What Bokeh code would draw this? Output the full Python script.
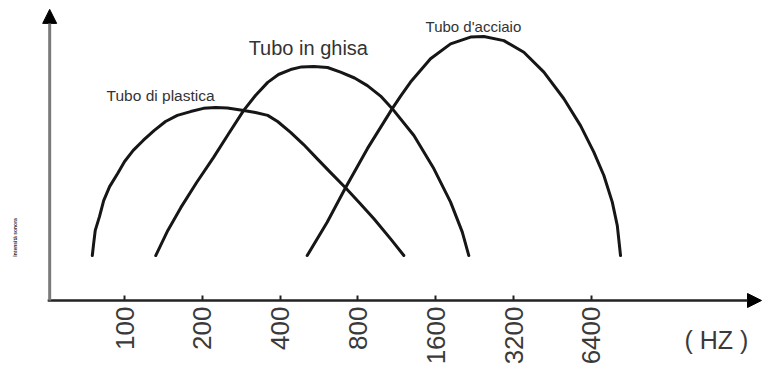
import math
from bokeh.plotting import figure
from bokeh.models import FixedTicker, Arrow, NormalHead, Label, Range1d
from bokeh.embed import file_html
from bokeh.resources import INLINE

# ---- data ----
tick_freqs = [100, 200, 400, 800, 1600, 3200, 6400]
tick_labels = ["100", "200", "400", "800", "1600", "3200", "6400"]

plastic_freq = [75, 76, 77, 80, 83, 87.5, 94, 100, 108, 118, 130, 144, 160, 180, 202, 225, 250,
                289, 321, 358, 391, 439, 493, 557, 627, 716, 812, 922, 1070, 1204]
plastic_level = [15.4, 19.9, 24.0, 28.8, 34.2, 39.0, 43.5, 47.6, 51.4, 54.8, 58.2, 61.3, 63.4, 64.7, 65.8, 66.1, 65.9,
                 65.1, 64.4, 63.4, 61.3, 57.6, 53.4, 48.5, 43.8, 38.6, 33.4, 28.0, 21.1, 15.4]

ghisa_freq = [132, 147, 165, 190, 221, 253, 289, 321, 358, 394, 439, 484, 540, 610, 685, 776, 870, 979,
              1086, 1317, 1574, 1826, 2027, 2148]
ghisa_level = [15.4, 24.0, 31.8, 40.4, 49.0, 57.2, 65.1, 70.2, 74.7, 77.4, 79.1, 80.0, 80.1, 79.8, 78.2, 76.2, 73.6, 70.0,
               65.7, 56.5, 45.1, 33.7, 23.4, 15.4]

steel_freq = [509, 608, 716, 870, 1086, 1170, 1278, 1527, 1826, 2181, 2456, 2935, 3508, 4193, 5011, 5812,
              6543, 7156, 7713, 8063, 8300]
steel_level = [15.4, 26.8, 38.6, 52.0, 65.7, 70.0, 74.8, 82.8, 87.9, 90.2, 90.4, 89.0, 85.0, 78.2, 69.1, 59.9,
               50.8, 42.8, 33.7, 25.7, 15.4]

series_names = ["Tubo di plastica", "Tubo in ghisa", "Tubo d'acciaio"]
x_unit_label = "( HZ )"
y_axis_label = "Intensità sonora"

# ---- figure: frame covers the whole canvas, x axis fixed at level 0 ----
x_range = Range1d(33.1, 29410)
y_range = Range1d(-21.92, 102.74)
p = figure(width=762, height=364, x_axis_type="log", x_range=x_range, y_range=y_range,
           output_backend="svg", toolbar_location=None,
           min_border_left=0, min_border_right=0, min_border_top=0, min_border_bottom=0)
p.outline_line_color = None
p.grid.visible = False
p.yaxis.visible = False
p.background_fill_color = "white"
p.border_fill_color = "white"

xa = p.xaxis[0]
xa.fixed_location = 0
xa.ticker = FixedTicker(ticks=tick_freqs)
xa.major_label_overrides = {f: l for f, l in zip(tick_freqs, tick_labels)}
xa.major_label_orientation = math.pi / 2
xa.axis_line_color = None
xa.major_tick_in = 5
xa.major_tick_out = 0
xa.major_tick_line_width = 2
xa.major_tick_line_color = "#222222"
xa.minor_tick_line_color = None
xa.major_label_text_font = "Liberation Sans"
xa.major_label_text_font_size = "26px"
xa.major_label_text_color = "#3a3a3a"
xa.major_label_standoff = 6

# axis lines with arrow heads (origin at the low-frequency end of the chart)
origin_x = 51.3
x_axis_start, x_axis_end = 50.4, 29150
y_axis_top = 99.7
p.add_layout(Arrow(end=NormalHead(size=14, fill_color="black", line_color="black"),
                   x_start=x_axis_start, y_start=0, x_end=x_axis_end, y_end=0,
                   line_width=2.5, line_color="#222222"))
p.add_layout(Arrow(end=NormalHead(size=14, fill_color="black", line_color="black"),
                   x_start=origin_x, y_start=0, x_end=origin_x, y_end=y_axis_top,
                   line_width=3, line_color="#7a7a7a"))

# curves
for fx, ly in [(plastic_freq, plastic_level), (ghisa_freq, ghisa_level), (steel_freq, steel_level)]:
    p.line(fx, ly, line_width=3, line_color="#161616", line_join="round", line_cap="round")

# series labels
label_pos = [(85.2, 70.2, "15.5px"), (302, 86.4, "20px"), (1461, 93.7, "15px")]
for name, (lx, ly, fs) in zip(series_names, label_pos):
    p.add_layout(Label(x=lx, y=ly, text=name, text_font="Liberation Sans", text_font_size=fs,
                       text_color="#333333", text_align="left", text_baseline="alphabetic"))

p.add_layout(Label(x=19500, y=-13.7, text=x_unit_label, text_font="Liberation Sans",
                   text_font_size="25px", text_color="#3a3a3a", text_align="center",
                   text_baseline="middle"))
p.add_layout(Label(x=37.5, y=21.6, text=y_axis_label, angle=math.pi / 2, text_font="Liberation Sans",
                   text_font_size="5px", text_font_style="bold", text_color="#333333",
                   text_align="center", text_baseline="middle"))

open("out.html", "w").write(file_html(p, INLINE))
